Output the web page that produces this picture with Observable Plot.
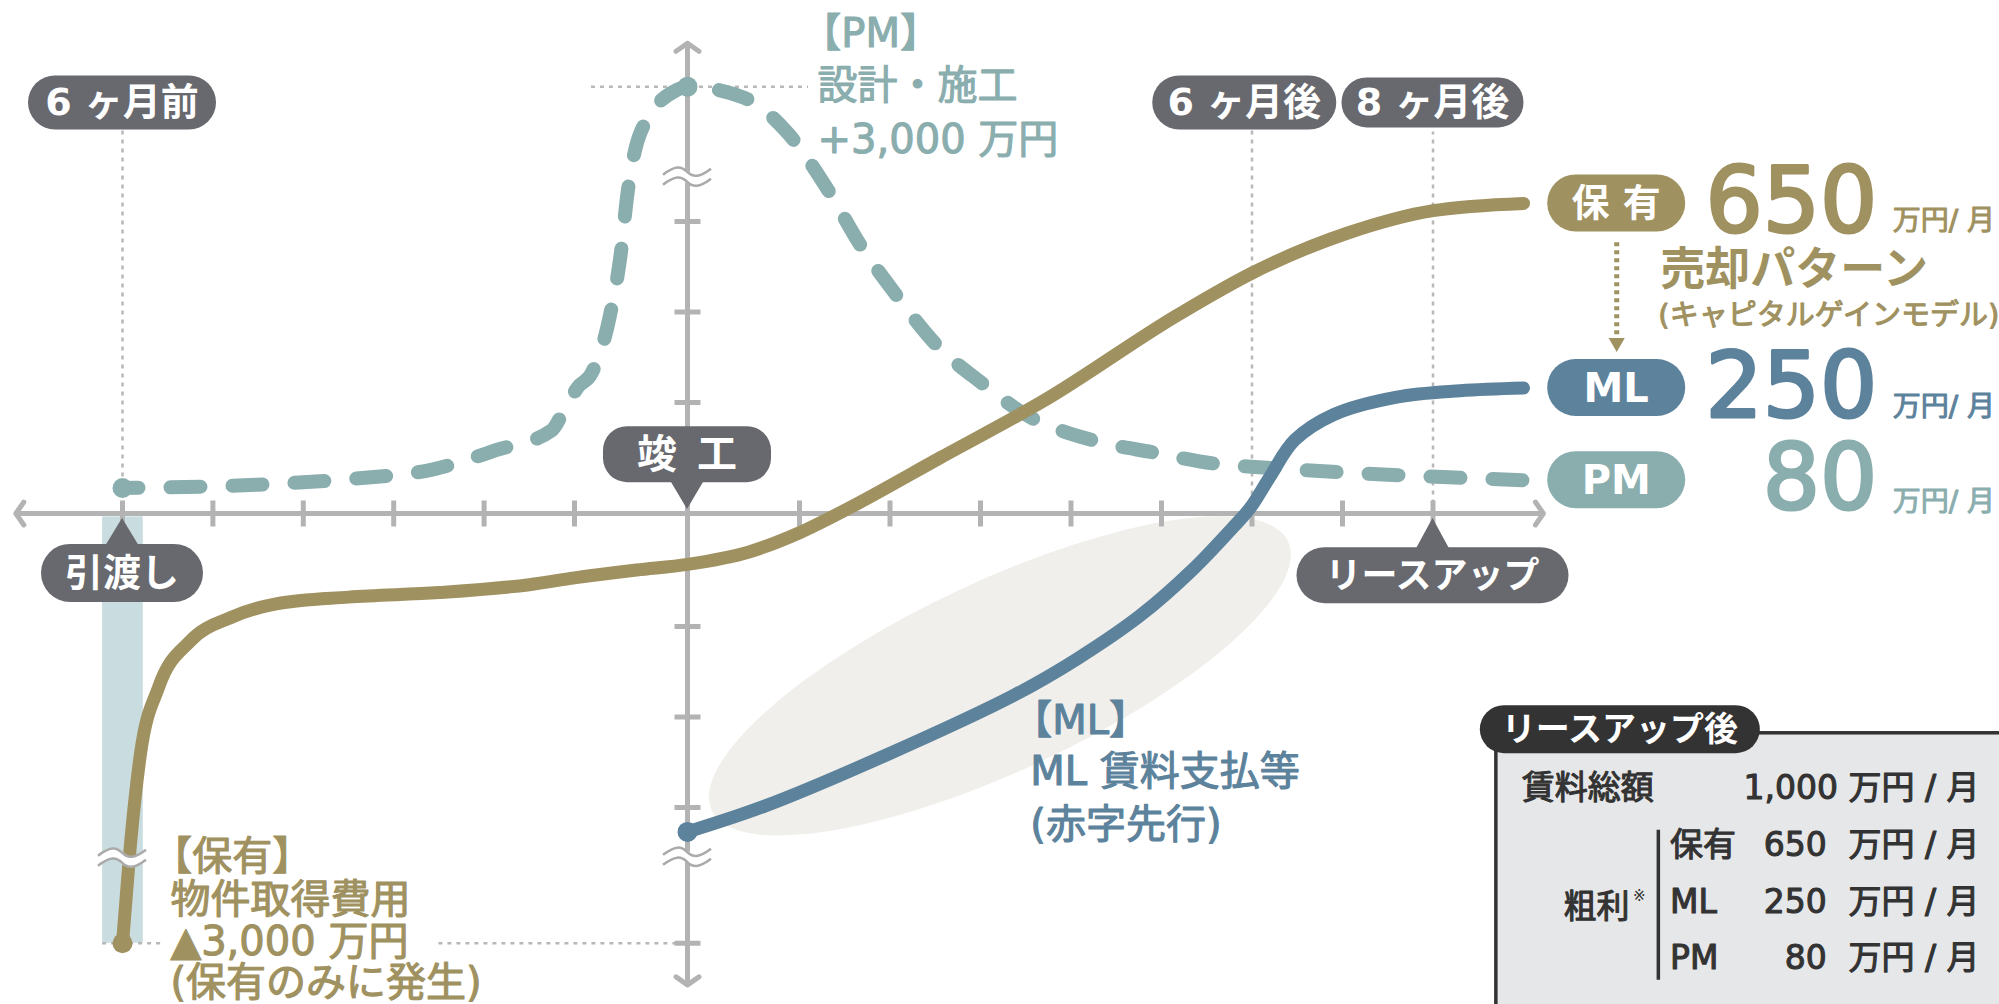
<!DOCTYPE html>
<html lang="ja"><head><meta charset="utf-8">
<script src="https://cdn.jsdelivr.net/npm/d3@7"></script>
<script src="https://cdn.jsdelivr.net/npm/@observablehq/plot@0.6"></script>
<style>
html,body{margin:0;padding:0;background:#fff;overflow:hidden;}
#chart svg{display:block;}
</style></head>
<body><div id="chart"></div>
<script>
// ---------- data (x = months from completion 竣工, y = relative profit level) ----------
const monthTicks = [-6,-5,-4,-3,-2,-1,1,2,3,4,5,6,7,8];
const levelTicks = [3,2,1,-1,-2,-3,-4.5];

const hoyuMonths = [-6,-5.92,-5.8,-5.6,-5.25,-4.8,-4.3,-3.5,-2.5,-1.5,-1,-0.45,0,0.55,1,1.55,2.55,3.7,5.2,6,7.05,8,9];
const hoyuLevels = [-4.5,-3.5,-2.4,-1.67,-1.16,-0.92,-0.8,-0.74,-0.7,-0.63,-0.57,-0.5,-0.45,-0.34,-0.17,0.05,0.5,1.02,1.98,2.43,2.87,3.12,3.2];

const mlMonths = [0,0.7,1.96,3.37,4.08,4.77,5.34,5.77,5.98,6.19,6.47,6.9,7.6,8.3,9];
const mlLevels = [-3.27,-2.98,-2.42,-1.76,-1.35,-0.9,-0.5,-0.14,0.05,0.32,0.66,0.89,1.06,1.13,1.16];

const pmMonths = [-6,-5.5,-4.5,-3.5,-2.55,-1.87,-1.25,-1.14,-0.97,-0.85,-0.69,-0.59,-0.53,-0.41,-0.1,0,0.5,0.9,1.32,1.66,2.06,2.5,3.02,3.48,4.24,4.91,5.58,6.21,7.5,9];
const pmLevels = [0.23,0.235,0.26,0.31,0.4,0.57,0.75,0.89,1.17,1.32,1.94,2.65,3.32,4.0,4.45,4.49,4.37,3.97,3.34,2.76,2.2,1.65,1.21,0.9,0.66,0.55,0.45,0.41,0.35,0.3];

const seriesNames = ["保有","ML","PM"];
const seriesPills = ["保 有","ML","PM"];
const profits = ["650","250","80"];
const rentTotal = "1,000";
const milestoneLabels = ["6 ヶ月前","6 ヶ月後","8 ヶ月後"];
const eventLabels = ["竣\u2002工","引渡し","リースアップ"];

const pmNoteLines = ["【PM】","設計・施工","+3,000 万円"];
const mlNoteLines = ["【ML】","ML 賃料支払等","(赤字先行)"];
const hoyuNoteLines = ["【保有】","物件取得費用","▲3,000 万円","(保有のみに発生)"];

// ---------- styling ----------
const GOLD="#a09160", BLUE="#5c829c", TEAL="#8aadae", GRAY="#68696e", AXIS="#b3b3b3", GUIDE="#b8b8b8", INK="#333333";
const MIX = "'DejaVu Sans','Noto Sans CJK JP',sans-serif";

const pts = (ms, vs) => ms.map((m,i)=>({m, v: vs[i]}));
const hoyu = pts(hoyuMonths, hoyuLevels), ml = pts(mlMonths, mlLevels), pm = pts(pmMonths, pmLevels);
const series = [hoyu, ml, pm];
const colors = [GOLD, BLUE, TEAL];
const ends = series.map(s => s[s.length-1]);
const pmPeak = pm.reduce((a,b)=> b.v>a.v ? b : a);

// custom symbols for axis ticks
const vTick = {draw(ctx, size){ const r=Math.sqrt(size/Math.PI); ctx.moveTo(0,-r); ctx.lineTo(0,r); }};
const hTick = {draw(ctx, size){ const r=Math.sqrt(size/Math.PI); ctx.moveTo(-r,0); ctx.lineTo(r,0); }};

// render helper: function mark receiving the plot's scales
function overlay(draw){
  return function(...args){
    const s = args.find(a => a && !Array.isArray(a) && typeof a.x === "function" && typeof a.y === "function");
    const g = d3.create("svg:g");
    draw(g, s.x, s.y);
    return g.node();
  };
}
function pill(g, cx, cy, w, h, rx, fill, label, fs, stroke){
  const p = g.append("g");
  p.append("rect").attr("x", cx-w/2).attr("y", cy-h/2).attr("width", w).attr("height", h)
    .attr("rx", rx).attr("ry", rx).attr("fill", fill)
    .attr("stroke", stroke || "none").attr("stroke-width", stroke ? 4 : 0);
  p.append("text").attr("x", cx).attr("y", cy).attr("text-anchor","middle").attr("dominant-baseline","central")
    .attr("fill","#fff").attr("font-family", MIX).attr("font-weight","bold").attr("font-size", fs).text(label);
  return p;
}

// annotation layout (months / levels)
const calloutPills = [
  {t:milestoneLabels[0], m:-6, v:4.31, w:188, h:54, fs:38},
  {t:milestoneLabels[1], m:5.92, v:4.31, w:184, h:54, fs:38},
  {t:milestoneLabels[2], m:8.0, v:4.31, w:186, h:54, fs:38},
  {t:eventLabels[0], m:0, v:0.53, w:168, h:56, fs:40, rx:24, tip:0.036},
  {t:eventLabels[1], m:-6, v:-0.53, w:162, h:58, fs:38, tip:-0.044},
  {t:eventLabels[2], m:8, v:-0.55, w:272, h:56, fs:36, tip:-0.044}
];
const guideV = [{m:-6, v1:4.0, v2:0.23},{m:6, v1:4.0, v2:0},{m:8, v1:4.0, v2:0}];
const guideH = [{v:pmPeak.v, m1:-0.85, m2:1.1},{v:-4.5, m1:-6.22, m2:-5.55},{v:-4.5, m1:-2.5, m2:0}];
const handoverBand = [{m1:-6.22, m2:-5.77, v1:-0.03, v2:-4.5}];
const lossArea = [{m:3.22, v:-1.55}];
const breakMarks = [{m:0, v:3.49},{m:0, v:-3.55},{m:-6, v:-3.56}];
const axisArrows = [{m1:0,v1:0,m2:-7.18,v2:0},{m1:0,v1:0,m2:9.22,v2:0},{m1:0,v1:0,m2:0,v2:4.97},{m1:0,v1:0,m2:0,v2:-4.96}];

const pmNote = pmNoteLines.map((t,i)=>({t, m: i===0 ? 1.02 : 1.2, v:[5.07,4.49,3.9][i]}));
const mlNote = mlNoteLines.map((t,i)=>({t, m: i===0 ? 3.35 : 3.55, v:[-2.05,-2.61,-3.19][i]}));
const hoyuNote = hoyuNoteLines.map((t,i)=>({t, m: i===0 ? -5.67 : -5.47, v:[-3.55,-4.02,-4.49,-4.94][i]}));

const rowV = [-3.42,-4.05,-4.67];
const tableRows = seriesNames.map((n,i)=>({label:n, value:profits[i], v:rowV[i]}));

// medium-weight text: regular glyphs thickened with a same-colour outline
const med = (color, fs, extra={}) => ({fill:color, stroke:color, strokeWidth:1.1, fontSize:fs, fontFamily:MIX, ...extra});

const chart = Plot.plot({
  width: 1999, height: 1004, margin: 0,
  x: {type:"linear", domain:[-6,-1,0,1,9], range:[122,574,687,799,1523], axis:null},
  y: {type:"linear", domain:[-5,-1,0,1,5], range:[988,626,513,402,40], axis:null},
  style: {background:"#fff", overflow:"visible"},
  marks: [
    overlay((g,X,Y)=>{
      for (const e of lossArea) g.append("ellipse").attr("rx",318).attr("ry",95)
        .attr("transform",`translate(${X(e.m)},${Y(e.v)}) rotate(-25)`).attr("fill","#f0efeb");
    }),
    Plot.rect(handoverBand, {x1:"m1", x2:"m2", y1:"v1", y2:"v2", fill:"#c9dcdf"}),
    Plot.ruleX(guideV, {x:"m", y1:"v1", y2:"v2", stroke:GUIDE, strokeWidth:2.5, strokeDasharray:"4,5"}),
    Plot.ruleY(guideH, {y:"v", x1:"m1", x2:"m2", stroke:GUIDE, strokeWidth:2.5, strokeDasharray:"4,5"}),
    Plot.arrow(axisArrows, {x1:"m1", y1:"v1", x2:"m2", y2:"v2", stroke:AXIS, strokeWidth:5, headLength:4.2, headAngle:110}),
    Plot.dot(monthTicks, {x:d=>d, y:()=>0, symbol:vTick, r:13, stroke:AXIS, strokeWidth:5, fill:"none"}),
    Plot.dot(levelTicks, {x:()=>0, y:d=>d, symbol:hTick, r:13, stroke:AXIS, strokeWidth:5, fill:"none"}),
    Plot.line(pm, {x:"m", y:"v", stroke:TEAL, strokeWidth:14, strokeDasharray:"30,32", strokeDashoffset:14, curve:"monotone-x"}),
    Plot.line(hoyu, {x:"m", y:"v", stroke:GOLD, strokeWidth:13, curve:"monotone-x"}),
    Plot.line(ml, {x:"m", y:"v", stroke:BLUE, strokeWidth:13, curve:"catmull-rom"}),
    Plot.dot([pm[0], pmPeak], {x:"m", y:"v", r:10, fill:TEAL}),
    Plot.dot([hoyu[0]], {x:"m", y:"v", r:10, fill:GOLD}),
    Plot.dot([ml[0]], {x:"m", y:"v", r:10, fill:BLUE}),
    overlay((g,X,Y)=>{
      const w = 24;
      const wave = o => `M${-w},${o+3} C${-w/2},${o-6} ${-w/4},${o-6} 0,${o} S${w/2},${o+6} ${w},${o-3}`;
      for (const b of breakMarks){
        const t = g.append("g").attr("transform",`translate(${X(b.m)},${Y(b.v)})`);
        t.append("path").attr("d", wave(0)).attr("fill","none").attr("stroke","#fff").attr("stroke-width",10);
        t.append("path").attr("d", wave(-5)).attr("fill","none").attr("stroke","#aaa").attr("stroke-width",2.5);
        t.append("path").attr("d", wave(5)).attr("fill","none").attr("stroke","#aaa").attr("stroke-width",2.5);
      }
    }),
    // sale pattern arrow
    Plot.link([{m:10.03, v1:2.77, v2:1.72}], {x1:"m", x2:"m", y1:"v1", y2:"v2", stroke:GOLD, strokeWidth:5, strokeDasharray:"4,4"}),
    Plot.dot([{m:10.03, v:1.66}], {x:"m", y:"v", symbol:"triangle", r:6, fill:GOLD, rotate:180}),
    // callout pills
    overlay((g,X,Y)=>{
      for (const p of calloutPills){
        const cx = X(p.m), cy = Y(p.v);
        if (p.tip !== undefined){
          const ty = Y(p.tip), edge = ty > cy ? cy + p.h/2 - 2 : cy - p.h/2 + 2;
          g.append("path").attr("d",`M${cx-17},${edge} L${X(p.m)},${ty} L${cx+17},${edge} Z`).attr("fill",GRAY);
        }
        pill(g, cx, cy, p.w, p.h, p.rx ?? p.h/2, GRAY, p.t, p.fs, p.t===milestoneLabels[2] ? "#fff" : null);
      }
      ends.forEach((e,i)=> pill(g, X(10.03), Y(e.v), 138, 57, 28.5, colors[i], seriesPills[i], i===0?38:40));
    }),
    // table
    Plot.rect([{m1:8.7, m2:14.4, v1:-2.18, v2:-5.3}], {x1:"m1", x2:"m2", y1:"v1", y2:"v2", fill:"#e6e7e9", stroke:INK, strokeWidth:3.5}),
    Plot.ruleX([{m:10.49, v1:-3.25, v2:-4.91}], {x:"m", y1:"v1", y2:"v2", stroke:INK, strokeWidth:3.5}),
    overlay((g,X,Y)=>{ pill(g, X(10.07), Y(-2.14), 280, 48, 24, INK, "リースアップ後", 34); }),
    Plot.text([{m:8.98, v:-2.79, t:"賃料総額"}], {x:"m", y:"v", text:"t", textAnchor:"start", ...med(INK,33)}),
    Plot.text([{m:14.04, v:-2.79, t:rentTotal + " 万円 / 月"}], {x:"m", y:"v", text:"t", textAnchor:"end", ...med(INK,33)}),
    Plot.text(tableRows, {x:()=>10.62, y:"v", text:"label", textAnchor:"start", ...med(INK,33)}),
    Plot.text(tableRows, {x:()=>12.35, y:"v", text:"value", textAnchor:"end", ...med(INK,33)}),
    Plot.text(tableRows, {x:()=>14.04, y:"v", text:()=>"万円 / 月", textAnchor:"end", ...med(INK,33)}),
    Plot.text([{m:10.17, v:-4.1, t:"粗利"}], {x:"m", y:"v", text:"t", textAnchor:"end", ...med(INK,33)}),
    Plot.text([{m:10.28, v:-3.98, t:"※"}], {x:"m", y:"v", text:"t", textAnchor:"middle", fill:INK, fontSize:15, fontFamily:MIX}),
    // right-hand figures
    Plot.text(ends, {x:()=>12.91, y:"v", text:(d,i)=>profits[i], textAnchor:"end", fill:(d,i)=>colors[i], stroke:(d,i)=>colors[i], strokeWidth:3, fontSize:90, fontFamily:MIX}),
    Plot.text(ends, {x:()=>13.08, y:d=>d.v-0.2, text:()=>"万円/ 月", textAnchor:"start", fill:(d,i)=>colors[i], stroke:(d,i)=>colors[i], strokeWidth:1, fontSize:28, fontFamily:MIX}),
    Plot.text([{m:10.51, v:2.46, t:"売却パターン"}], {x:"m", y:"v", text:"t", textAnchor:"start", fill:GOLD, fontSize:45, fontWeight:"bold", fontFamily:MIX}),
    Plot.text([{m:10.49, v:1.96, t:"(キャピタルゲインモデル)"}], {x:"m", y:"v", text:"t", textAnchor:"start", ...med(GOLD,29)}),
    // notes
    Plot.text(pmNote, {x:"m", y:"v", text:"t", textAnchor:"start", ...med(TEAL,40)}),
    Plot.text(mlNote, {x:"m", y:"v", text:"t", textAnchor:"start", ...med(BLUE,40)}),
    Plot.text(hoyuNote, {x:"m", y:"v", text:"t", textAnchor:"start", ...med(GOLD,40)})
  ]
});
document.getElementById("chart").append(chart);
</script>
</body></html>
